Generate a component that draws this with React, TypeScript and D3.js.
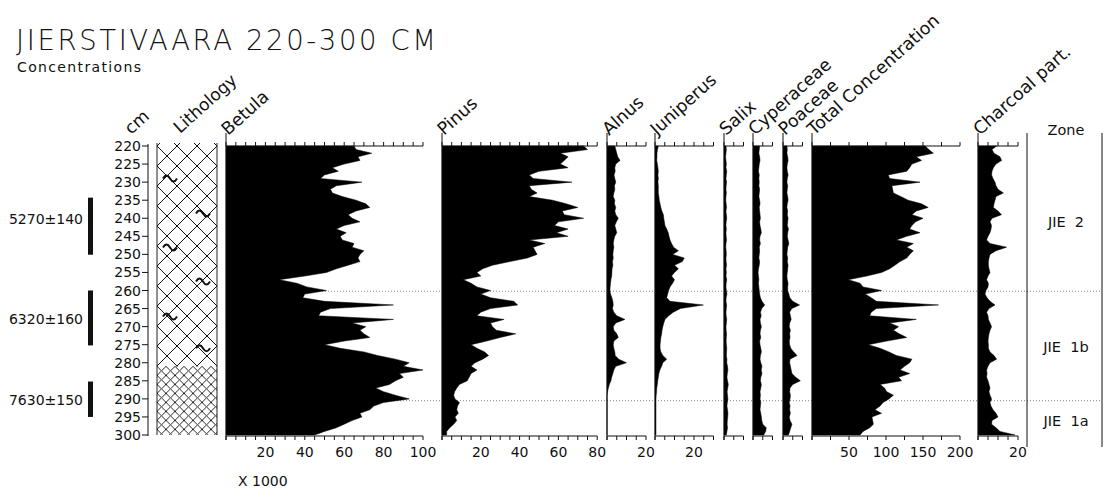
import React from 'react';
import * as d3 from 'd3';

// ---------- DATA ----------
const depths = [
  220, 221, 222, 223, 224, 225, 226, 227, 228, 229,
  230, 231, 232, 233, 234, 235, 236, 237, 238, 239,
  240, 241, 242, 243, 244, 245, 246, 247, 248, 249,
  250, 251, 252, 253, 254, 255, 256, 257, 258, 259,
  260, 261, 262, 263, 264, 265, 266, 267, 268, 269,
  270, 271, 272, 273, 274, 275, 276, 277, 278, 279,
  280, 281, 282, 283, 284, 285, 286, 287, 288, 289,
  290, 291, 292, 293, 294, 295, 296, 297, 298, 299,
  300,
];

const betula = [
  65, 66, 74, 67, 68, 60, 54, 57, 50, 48,
  69, 56, 53, 54, 59, 66, 71, 73, 66, 62,
  64, 68, 60, 56, 61, 58, 59, 65, 64, 70,
  68, 67, 68, 62, 56, 51, 40, 27, 36, 41,
  51, 40, 39, 50, 85, 53, 48, 47, 85, 64,
  71, 68, 70, 73, 60, 50, 58, 70, 77, 86,
  93, 90, 100, 88, 90, 86, 83, 76, 80, 86,
  93, 80, 75, 73, 68, 69, 64, 60, 56, 50,
  45,
];

const pinus = [
  73, 75, 61, 65, 63, 61, 65, 50, 45, 47,
  67, 45, 46, 49, 45, 57, 64, 70, 62, 63,
  73, 60, 58, 65, 59, 65, 45, 53, 47, 48,
  49, 44, 35, 26, 21, 18, 20, 11, 15, 18,
  25, 20, 25, 37, 39, 25, 20, 18, 32, 25,
  26, 28, 38, 30, 23, 15, 18, 22, 24, 21,
  17, 15, 18, 15, 14, 13, 9, 7.6, 6.5, 6,
  6.7, 9, 8, 7.6, 8.4, 6.7, 7.6, 6, 4, 2.4,
  2.4,
];

const alnus = [
  4, 4.5, 5, 5.5, 6.7, 4.5, 4, 4.2, 3.6, 4,
  4.5, 3.8, 4, 3.5, 3.2, 4, 3.8, 4.5, 4, 4.5,
  5.8, 4.8, 4, 4.5, 5, 4, 3.5, 3.2, 3.5, 3.2,
  3, 3.2, 2.8, 3, 2.6, 2.5, 2.4, 2, 1.8, 1.6,
  1.5, 1.8, 2.5, 3, 3.2, 2.8, 3.5, 5, 9.2, 4.5,
  3.2, 3.5, 5, 5.8, 3.5, 3.2, 3.5, 4, 4.2, 6,
  10, 4.5, 3.5, 3, 2.4, 2, 1.2, 0.7, 0.3, 0,
  0, 0, 0, 0, 0, 0, 0, 0, 0, 0,
  0,
];

const juniperus = [
  1.7, 1.3, 1, 1, 0.9, 1.2, 1.5, 1.7, 1.5, 1.7,
  1.5, 1.7, 1.7, 1.7, 2, 2.2, 2.6, 3, 3.5, 4.3,
  4.5, 4.8, 5.1, 6, 6.8, 7.2, 7.7, 8.5, 9.5, 12,
  9, 15, 14, 10, 12, 10, 8.5, 10, 9, 7.7,
  7, 6.5, 6, 7.7, 24.8, 13, 9.4, 7, 5.1, 4.5,
  4, 3.6, 3.4, 3, 2.8, 2.6, 2.6, 3, 4, 6,
  4, 3.4, 2.5, 2, 1.7, 1.4, 1.2, 0.9, 0.8, 0.6,
  0.5, 0.5, 0.5, 0.5, 0.5, 0.5, 0.5, 0.5, 0.5, 0.5,
  0.5,
];

const salix = [
  1, 1.2, 1, 0.8, 1, 1.2, 1, 1.4, 1.2, 1,
  1.3, 1.1, 1, 1.2, 1, 0.9, 1.1, 1.3, 1, 1.2,
  1.4, 1.1, 1, 1.2, 1, 1.1, 1.3, 1, 0.9, 1.1,
  1.2, 1, 1.1, 1.3, 1, 1.2, 1, 1.4, 1.1, 1,
  1.2, 1.5, 1.1, 1, 1.3, 1.2, 1, 1.1, 1.4, 1.2,
  1, 1.1, 1.3, 1.2, 1.1, 1.2, 1.4, 1.3, 1.2, 1.5,
  1.4, 1.8, 2, 1.7, 1.5, 1.8, 2.2, 1.9, 1.6, 1.8,
  2, 1.7, 1.5, 1.8, 2, 1.9, 1.7, 1.6, 1.8, 1.5,
  1.2,
];

const cyperaceae = [
  3.4, 3.2, 3, 3.4, 3.6, 3.2, 3, 2.8, 3.2, 3,
  3.2, 3, 3.4, 3.2, 3, 3.4, 3.6, 3.2, 3.4, 3.6,
  3.8, 3.4, 3.6, 4, 4.3, 3.6, 3.4, 3.8, 3.2, 3.4,
  3.2, 3, 3.4, 3.2, 2.8, 2.6, 2.8, 3, 2.8, 3,
  3.2, 3.4, 3.8, 4.6, 6, 4.5, 3.8, 4.2, 3.6, 3.8,
  4.3, 3.8, 3.6, 4, 3.4, 3.6, 4, 4.3, 3.8, 3.6,
  4, 4.6, 4.2, 4.6, 4, 3.8, 4.3, 4, 3.6, 3.8,
  3.6, 4, 3.8, 3.6, 4, 4.3, 4.5, 5, 6.8, 6.5,
  5.5,
];

const poaceae = [
  2, 2.2, 2, 2.4, 2.6, 2.2, 2, 2.2, 2.6, 2.2,
  2, 2.4, 2.2, 2, 2.4, 2.6, 2.2, 2, 2.4, 2.2,
  2.6, 2.4, 2.2, 2.8, 2.4, 2.2, 2.6, 3, 2.4, 2.2,
  2, 2.4, 2.2, 2.6, 2.4, 2.2, 2, 2.2, 2.6, 2.4,
  2.4, 3, 3.5, 5, 8.5, 4.5, 3.4, 3.8, 4.2, 3.4,
  3.2, 3.8, 3.4, 3.6, 3.2, 3.4, 4, 5.5, 7.2, 3.6,
  3.4, 3.8, 4.2, 4.6, 6.5, 8.9, 5, 3.6, 3.4, 3.8,
  3.6, 3.2, 3.6, 3.4, 3.8, 3.2, 3.6, 4.6, 4, 3.4,
  2.8,
];

const totalConcentration = [
  153, 158, 164, 141, 148, 135, 132, 128, 103, 105,
  146, 108, 109, 110, 120, 130, 148, 157, 141, 135,
  150, 140, 135, 132, 146, 128, 114, 137, 128, 137,
  132, 128, 119, 112, 105, 94, 74, 49, 65, 69,
  94, 72, 80, 87, 171, 87, 80, 78, 141, 105,
  117, 110, 118, 128, 101, 76, 92, 104, 114, 135,
  132, 125, 119, 132, 117, 121, 92, 98, 101, 110,
  104, 96, 92, 85, 94, 81, 82, 83, 78, 69,
  65,
];

const charcoal = [
  9.3, 7, 8, 11, 11.8, 9, 7.7, 7, 6.8, 7.5,
  8.5, 9, 10, 12.7, 9, 8.5, 8, 7.7, 10, 11.8,
  7, 6, 6.8, 6.5, 6, 5, 4.3, 6, 14.3, 9,
  6, 5.5, 5.2, 5.2, 5.5, 6, 5, 4.3, 5.2, 5,
  4, 3.5, 4.5, 6, 8.5, 5.5, 4.3, 5, 5.2, 6,
  6.8, 6, 5.5, 5.2, 5, 5.2, 5.2, 6, 8, 9.3,
  6, 5, 4.3, 4.5, 4.3, 5, 5.5, 6, 5.5, 6,
  6.8, 6, 6.5, 7.5, 9, 10, 7, 6.8, 9, 11,
  18.5,
];

const taxonNames = ['Betula', 'Pinus', 'Alnus', 'Juniperus', 'Salix', 'Cyperaceae', 'Poaceae', 'Total Concentration', 'Charcoal part.'];
const taxonMax = [100, 80, 20, 30, 10, 10, 10, 200, 20];
const taxonTickStep = [5, 5, 5, 5, 5, 5, 5, 25, 5];
const taxonTickLabels = [[20, 40, 60, 80, 100], [20, 40, 60, 80], [20], [20], [], [], [], [50, 100, 150, 200], [20]];

const dateLabels = ['5270±140', '6320±160', '7630±150'];
const dateTop = [234.3, 260, 285.2];
const dateBottom = [250.1, 275.2, 295];
const dateLabelDepth = [240.2, 267.9, 290.3];

const zoneNames = ['JIE  2', 'JIE  1b', 'JIE  1a'];
const zoneLabelDepth = [242.4, 277, 297.4];
const zoneBoundaries = [260.2, 290.5];

const lithoUnits = [
  { top: 220, bottom: 281, kind: 'coarse' },
  { top: 281, bottom: 300, kind: 'fine' },
];
const lithoWaveDepths = [228.6, 238.3, 247.7, 257.1, 266.8, 275.6];

// ---------- LAYOUT ----------
const W = 1104;
const H = 491;
const FONT = '"DejaVu Sans", Verdana, sans-serif';
const panelX0 = [226, 442, 607, 655, 724, 753, 783, 812, 978];
const pxPerUnit = [1.97, 1.94, 1.95, 1.95, 1.95, 1.95, 1.95, 0.74, 2.0];

export default function App() {
  const y = d3.scaleLinear().domain([220, 300]).range([146, 435]);
  const series = [betula, pinus, alnus, juniperus, salix, cyperaceae, poaceae, totalConcentration, charcoal];
  const yTop = y(220);
  const yBot = y(300);

  const panels = taxonNames.map((name, i) => {
    const x = d3.scaleLinear().domain([0, taxonMax[i]]).range([panelX0[i], panelX0[i] + taxonMax[i] * pxPerUnit[i]]);
    const area = d3
      .area<number>()
      .y((_, j) => y(depths[j]))
      .x0(x(0))
      .x1((d) => x(d));
    const ticks = d3.range(0, taxonMax[i] + taxonTickStep[i] / 2, taxonTickStep[i]);
    return { name, x, path: area(series[i]) || '', ticks, labels: taxonTickLabels[i] };
  });

  const depthTicks = y.ticks(16);
  const lithoX0 = 157;
  const lithoX1 = 217;

  return (
    <svg width={W} height={H} style={{ position: 'absolute', left: 0, top: 0, background: '#fff' }} fontFamily={FONT}>
      <defs>
        <pattern id="coarse" patternUnits="userSpaceOnUse" width={20} height={20} x={lithoX0} y={y(220)}>
          <path d="M0,0 L20,20 M20,0 L0,20" stroke="#111" strokeWidth={1} fill="none" />
        </pattern>
        <pattern id="fine" patternUnits="userSpaceOnUse" width={9} height={9} x={lithoX0} y={y(281)}>
          <path d="M0,0 L9,9 M9,0 L0,9" stroke="#111" strokeWidth={0.9} fill="none" />
        </pattern>
        <clipPath id="lithoClip">
          <rect x={lithoX0} y={yTop - 3} width={lithoX1 - lithoX0} height={yBot - yTop + 3} />
        </clipPath>
      </defs>

      {/* Title */}
      <text x={16} y={50} fontSize={27.5} fontWeight={200} textLength={420} lengthAdjust="spacing" fill="#111">
        JIERSTIVAARA 220-300 CM
      </text>
      <text x={17} y={72} fontSize={14} textLength={124} lengthAdjust="spacing" fill="#111">
        Concentrations
      </text>

      {/* Zone boundaries (dotted) */}
      {zoneBoundaries.map((d, i) => (
        <line key={'zb' + i} x1={226} x2={1102} y1={y(d)} y2={y(d)} stroke="#888" strokeWidth={1} strokeDasharray="1 2" />
      ))}

      {/* Depth axis */}
      <line x1={148} x2={148} y1={yTop - 2} y2={yBot + 1} stroke="#111" strokeWidth={1} />
      {depthTicks.map((t) => (
        <g key={'dt' + t}>
          <line x1={142} x2={148} y1={y(t)} y2={y(t)} stroke="#111" strokeWidth={1} />
          <text x={141} y={y(t)} dy="0.36em" textAnchor="end" fontSize={14} fill="#111">
            {t}
          </text>
        </g>
      ))}
      <text x={131} y={135} fontSize={17} transform="rotate(-42 131 135)" fill="#111">
        cm
      </text>

      {/* Radiocarbon dates */}
      {dateLabels.map((lab, i) => (
        <g key={'date' + i}>
          <rect x={88} y={y(dateTop[i])} width={5} height={y(dateBottom[i]) - y(dateTop[i])} fill="#111" />
          <text x={83} y={y(dateLabelDepth[i])} dy="0.36em" textAnchor="end" fontSize={14} fill="#111">
            {lab}
          </text>
        </g>
      ))}

      {/* Lithology */}
      <text x={180} y={134} fontSize={17} transform="rotate(-42 180 134)" fill="#111">
        Lithology
      </text>
      <g clipPath="url(#lithoClip)">
        {lithoUnits.map((u, i) => (
          <rect
            key={'lu' + i}
            x={lithoX0}
            y={y(u.top) - (i === 0 ? 3 : 0)}
            width={lithoX1 - lithoX0}
            height={y(u.bottom) - y(u.top) + (i === 0 ? 3 : 0)}
            fill={`url(#${u.kind})`}
          />
        ))}
      </g>
      <line x1={lithoX0} x2={lithoX0} y1={yTop - 3} y2={yBot} stroke="#222" strokeWidth={1} />
      <line x1={lithoX1} x2={lithoX1} y1={yTop - 3} y2={yBot} stroke="#222" strokeWidth={1} />
      {lithoWaveDepths.map((d, i) => {
        const cx = i % 2 === 0 ? 170 : 203;
        const cy = y(d);
        return (
          <path
            key={'w' + i}
            d={`M${cx - 7},${cy + 1.5} q3.5,-6 7,0 t7,0`}
            stroke="#111"
            strokeWidth={2}
            fill="none"
          />
        );
      })}

      {/* Panels */}
      {panels.map((p, i) => {
        const x0 = p.x(0);
        const xMax = p.x(taxonMax[i]);
        return (
          <g key={'p' + i}>
            <path d={p.path} fill="#000" stroke="#000" strokeWidth={0.5} />
            <line x1={x0} x2={x0} y1={133} y2={yBot + 5} stroke="#111" strokeWidth={1} />
            <line x1={x0} x2={xMax} y1={yTop} y2={yTop} stroke="#111" strokeWidth={1} />
            <line x1={x0} x2={xMax} y1={yBot + 1} y2={yBot + 1} stroke="#111" strokeWidth={1} />
            {p.ticks.map((t) => (
              <g key={'t' + t}>
                <line x1={p.x(t)} x2={p.x(t)} y1={yTop - 4} y2={yTop} stroke="#111" strokeWidth={1} />
                <line x1={p.x(t)} x2={p.x(t)} y1={yBot + 1} y2={yBot + 5} stroke="#111" strokeWidth={1} />
              </g>
            ))}
            {p.labels.map((t) => (
              <text key={'l' + t} x={p.x(t)} y={457} textAnchor="middle" fontSize={14} fill="#111">
                {t}
              </text>
            ))}
            <text
              x={x0 + 2}
              y={136}
              fontSize={17.5}
              transform={`rotate(-42 ${x0 + 2} 136)`}
              fill="#111"
            >
              {p.name}
            </text>
          </g>
        );
      })}

      <text x={238} y={486} fontSize={14} fill="#111">
        X 1000
      </text>

      {/* Zone column */}
      <line x1={1027} x2={1027} y1={133} y2={447} stroke="#111" strokeWidth={1} />
      <line x1={1102} x2={1102} y1={133} y2={447} stroke="#111" strokeWidth={1} />
      <text x={1066} y={135} textAnchor="middle" fontSize={14.5} fill="#111">
        Zone
      </text>
      {zoneNames.map((z, i) => (
        <text
          key={'z' + i}
          x={1066}
          y={y(zoneLabelDepth[i])}
          textAnchor="middle"
          fontSize={14.5}
          fill="#111"
          style={{ whiteSpace: 'pre' }}
        >
          {z}
        </text>
      ))}
    </svg>
  );
}
